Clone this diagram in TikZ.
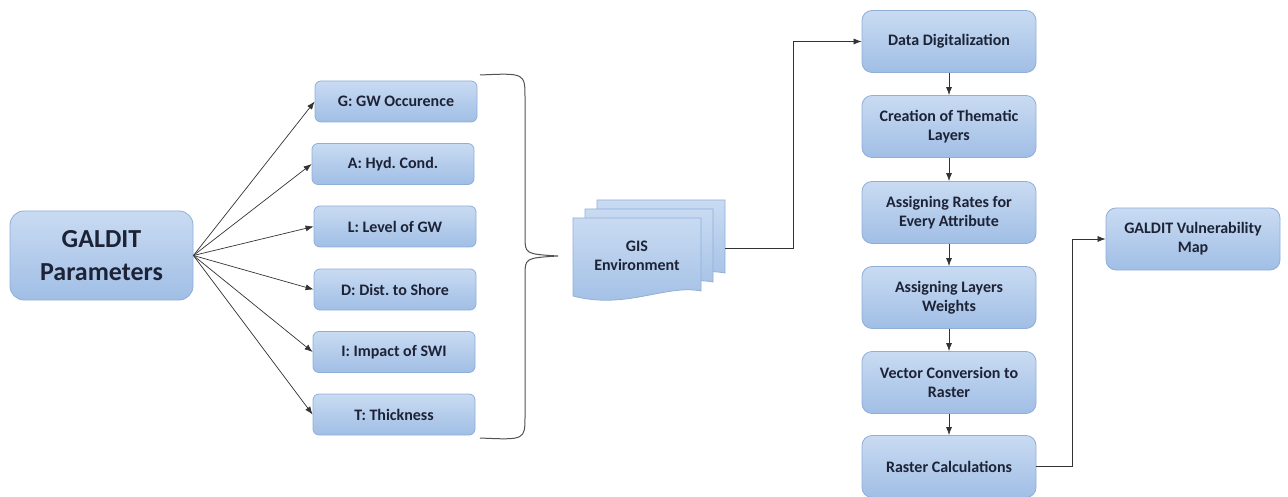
\documentclass[tikz,border=0pt]{standalone}
\usepackage{fontspec}
\setmainfont{Carlito}
\frenchspacing
\usetikzlibrary{arrows.meta}
\definecolor{boxtop}{HTML}{C9DBF2}
\definecolor{boxbot}{HTML}{A0BEE5}
\definecolor{boxline}{HTML}{8FAFD9}
\definecolor{boxtext}{HTML}{1D2336}
\definecolor{wire}{HTML}{333333}
\tikzset{
  flowbox/.style={draw=boxline, line width=0.8pt, top color=boxtop, bottom color=boxbot,
    text=boxtext, font=\bfseries\fontsize{16}{19}\selectfont, align=center, inner sep=0pt},
  parambox/.style={flowbox, rounded corners=6pt, minimum width=162pt, minimum height=41pt},
  stepbox/.style={flowbox, rounded corners=10pt, minimum width=174pt, minimum height=62pt},
  bigbox/.style={flowbox, rounded corners=14pt, minimum width=183pt, minimum height=89pt,
    font=\bfseries\fontsize{26}{33}\selectfont},
  docpage/.style={draw=boxline, line width=0.8pt, top color=boxtop, bottom color=boxbot},
  arr/.style={draw=wire, line width=0.7pt, -{Latex[length=8pt,width=6pt]}},
  bracepath/.style={draw=wire!85, line width=1pt}
}
\begin{document}
\begin{tikzpicture}[x=1pt, y=-1pt]
  \useasboundingbox (0,0) rectangle (1288,497);

  % source node
  \node[bigbox] (galdit) at (101.5,255.5) {GALDIT\\Parameters};

  % the six GALDIT parameters
  \node[parambox] (pg) at (396,101.5) {G: GW Occurence};
  \node[parambox] (pa) at (393,164)   {A: Hyd. Cond.};
  \node[parambox] (pl) at (395,226.5) {L: Level of GW};
  \node[parambox] (pd) at (395,289.5) {D: Dist. to Shore};
  \node[parambox] (pi) at (394,352)   {I: Impact of SWI};
  \node[parambox] (pt) at (394,414.5) {T: Thickness};

  \foreach \p in {pg,pa,pl,pd,pi,pt}
    \draw[arr] (galdit.east) -- (\p.west);

  % curly brace grouping the parameters
  \draw[bracepath] (480,75) .. controls (525,73) .. (525,98) -- (525,236)
     .. controls (525,254) .. (558,256) .. controls (525,258) .. (525,276)
     -- (525,416) .. controls (525,440) .. (480,438);

  % stacked document shape: GIS environment
  \draw[docpage] (597,200) -- (725,200) -- (725,273)
     .. controls (690,266) and (650,292) .. (597,278) -- cycle;
  \draw[docpage] (585,209) -- (713,209) -- (713,282)
     .. controls (678,275) and (638,301) .. (585,287) -- cycle;
  \draw[docpage] (573,218) -- (701,218) -- (701,291)
     .. controls (666,284) and (626,310) .. (573,296) -- cycle;
  \node[text=boxtext, font=\bfseries\fontsize{16}{19}\selectfont, align=center]
    (gistext) at (637,256) {GIS\\Environment};
  \coordinate (gis) at (725,248);

  % processing chain
  \node[stepbox] (dd) at (949,41.5)  {Data Digitalization};
  \node[stepbox] (ct) at (949,126.5) {Creation of Thematic\\Layers};
  \node[stepbox] (ar) at (949,212.5) {Assigning Rates for\\Every Attribute};
  \node[stepbox] (al) at (949,297.5) {Assigning Layers\\Weights};
  \node[stepbox] (vc) at (949,382.5) {Vector Conversion to\\Raster};
  \node[stepbox] (rc) at (949,466.5) {Raster Calculations};
  \node[stepbox] (map) at (1193,239) {GALDIT Vulnerability\\Map};

  \draw[arr] (gis) -- ++(68,0) |- (dd.west);
  \draw[arr] (dd) -- (ct);
  \draw[arr] (ct) -- (ar);
  \draw[arr] (ar) -- (al);
  \draw[arr] (al) -- (vc);
  \draw[arr] (vc) -- (rc);
  \draw[arr] (rc.east) -- ++(36,0) |- (map.west);
\end{tikzpicture}
\end{document}
